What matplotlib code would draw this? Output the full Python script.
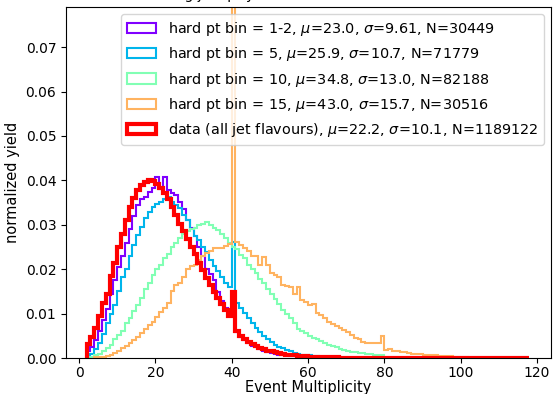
import matplotlib
matplotlib.use("Agg")
import matplotlib.pyplot as plt
import numpy as np

# bin edges are integers, every series uses unit-width bins
labels = [
    r"hard pt bin = 1-2, $\mu$=23.0, $\sigma$=9.61, N=30449",
    r"hard pt bin = 5, $\mu$=25.9, $\sigma$=10.7, N=71779",
    r"hard pt bin = 10, $\mu$=34.8, $\sigma$=13.0, N=82188",
    r"hard pt bin = 15, $\mu$=43.0, $\sigma$=15.7, N=30516",
    r"data (all jet flavours), $\mu$=22.2, $\sigma$=10.1, N=1189122",
]

# first bin edge of each series
starts = [2, 3, 3, 4, 2]

bin12 = [0.0015, 0.0025, 0.0040, 0.0062, 0.0085, 0.0110, 0.0145, 0.0175, 0.0205,
         0.0230, 0.0260, 0.0290, 0.0320, 0.0345, 0.0358, 0.0362, 0.0374, 0.0382,
         0.0407, 0.0380, 0.0408, 0.0378, 0.0372, 0.0368, 0.0352, 0.0335, 0.0312,
         0.0292, 0.0275, 0.0250, 0.0230, 0.0200, 0.0190, 0.0175, 0.0148, 0.0128,
         0.0112, 0.0103, 0.0095, 0.0058, 0.0048, 0.0040, 0.0033, 0.0028, 0.0024,
         0.0020, 0.0017, 0.0014, 0.0012, 0.0010, 0.0008, 0.0007, 0.0006, 0.0005,
         0.0004, 0.0003, 0.0003, 0.0002, 0.0002, 0.0002, 0.0001, 0.0001, 0.0001,
         0.0001]

bin5 = [0.0010, 0.0020, 0.0035, 0.0055, 0.0080, 0.0100, 0.0120, 0.0150, 0.0183,
        0.0200, 0.0230, 0.0255, 0.0278, 0.0296, 0.0315, 0.0330, 0.0340, 0.0346,
        0.0352, 0.0358, 0.0362, 0.0352, 0.0345, 0.0338, 0.0322, 0.0310, 0.0290,
        0.0275, 0.0265, 0.0250, 0.0238, 0.0220, 0.0208, 0.0195, 0.0182, 0.0170,
        0.0160, 0.0262, 0.0123, 0.0112, 0.0102, 0.0090, 0.0079, 0.0068, 0.0059,
        0.0050, 0.0042, 0.0036, 0.0030, 0.0026, 0.0022, 0.0018, 0.0015, 0.0012,
        0.0010, 0.0008, 0.0007, 0.0006, 0.0005, 0.0004, 0.0003, 0.0002, 0.0002]

bin10 = [0.0003, 0.0006, 0.0010, 0.0015, 0.0022, 0.0030, 0.0042, 0.0052, 0.0062,
         0.0078, 0.0090, 0.0105, 0.0120, 0.0135, 0.0155, 0.0170, 0.0188, 0.0200,
         0.0210, 0.0225, 0.0235, 0.0250, 0.0260, 0.0270, 0.0280, 0.0285, 0.0290,
         0.0292, 0.0300, 0.0302, 0.0307, 0.0300, 0.0292, 0.0288, 0.0280, 0.0270,
         0.0260, 0.0250, 0.0245, 0.0232, 0.0225, 0.0210, 0.0200, 0.0192, 0.0178,
         0.0168, 0.0155, 0.0145, 0.0132, 0.0122, 0.0108, 0.0100, 0.0090, 0.0078,
         0.0065, 0.0060, 0.0056, 0.0050, 0.0046, 0.0043, 0.0038, 0.0034, 0.0030,
         0.0027, 0.0024, 0.0021, 0.0018, 0.0016, 0.0014, 0.0013, 0.0012, 0.0011,
         0.0010, 0.0009, 0.0008, 0.0008, 0.0007]

bin15 = [0.0002, 0.0002, 0.0003, 0.0005, 0.0008, 0.0012, 0.0017, 0.0022, 0.0027,
         0.0033, 0.0040, 0.0047, 0.0056, 0.0066, 0.0074, 0.0082, 0.0092, 0.0104,
         0.0112, 0.0125, 0.0150, 0.0164, 0.0168, 0.0183, 0.0200, 0.0207, 0.0210,
         0.0220, 0.0230, 0.0236, 0.0242, 0.0247, 0.0248, 0.0248, 0.0253, 0.0256,
         0.0900, 0.0261, 0.0255, 0.0248, 0.0240, 0.0229, 0.0229, 0.0210, 0.0228,
         0.0209, 0.0192, 0.0186, 0.0182, 0.0165, 0.0162, 0.0160, 0.0145, 0.0160,
         0.0130, 0.0127, 0.0120, 0.0122, 0.0102, 0.0098, 0.0090, 0.0082, 0.0076,
         0.0072, 0.0068, 0.0064, 0.0058, 0.0052, 0.0046, 0.0042, 0.0037, 0.0035,
         0.0035, 0.0034, 0.0035, 0.0049, 0.0019, 0.0021, 0.0015, 0.0015, 0.0014,
         0.0013, 0.0012, 0.0010, 0.0010, 0.0009, 0.0008, 0.0008, 0.0007, 0.0006,
         0.0005, 0.0005, 0.0004, 0.0004, 0.0003, 0.0003, 0.0002, 0.0002, 0.0001]

data = [0.0032, 0.0048, 0.0068, 0.0095, 0.0125, 0.0145, 0.0185, 0.0215, 0.0250,
        0.0280, 0.0310, 0.0340, 0.0360, 0.0378, 0.0390, 0.0397, 0.0400, 0.0398,
        0.0392, 0.0383, 0.0372, 0.0358, 0.0340, 0.0322, 0.0302, 0.0285, 0.0268,
        0.0250, 0.0235, 0.0215, 0.0198, 0.0180, 0.0165, 0.0148, 0.0135, 0.0122,
        0.0108, 0.0095, 0.0148, 0.0060, 0.0050, 0.0042, 0.0036, 0.0031, 0.0027,
        0.0023, 0.0020, 0.0017, 0.0015, 0.0013, 0.0011, 0.0009, 0.0008, 0.0007,
        0.0006, 0.0005, 0.0004, 0.0004, 0.0003, 0.0003, 0.0003, 0.0003, 0.0002,
        0.0002, 0.0002, 0.0002, 0.0001, 0.0001, 0.0001, 0.0001, 0.0001, 0.0001,
        0.0001, 0.0001, 0.0001, 0.0001] + [0.00006] * 40

series = [bin12, bin5, bin10, bin15, data]
colors = plt.cm.rainbow(np.linspace(0, 1, 5))

fig = plt.figure(figsize=(5.55, 3.94), dpi=100)
ax = fig.add_axes([0.119, 0.091, 0.874, 0.891])

for i, vals in enumerate(series):
    edges = np.arange(starts[i], starts[i] + len(vals) + 1)
    centers = edges[:-1] + 0.5
    lw = 3 if i == 4 else 1.5
    ax.hist(centers, bins=edges, weights=vals, histtype="step",
            color=colors[i], lw=lw, label=labels[i])

ax.set_xlim(-3.4, 123.7)
ax.set_ylim(0, 0.079)
ax.tick_params(axis="x", pad=2)
ax.set_xlabel("Event Multiplicity", fontsize=10.5, labelpad=0)
ax.set_ylabel("normalized yield", fontsize=10.5)
ax.set_title("Including jets pt yield in the hard bins and the data", fontsize=10)
ax.legend(loc="upper right", fontsize=10.4)

fig.savefig("out.png")
